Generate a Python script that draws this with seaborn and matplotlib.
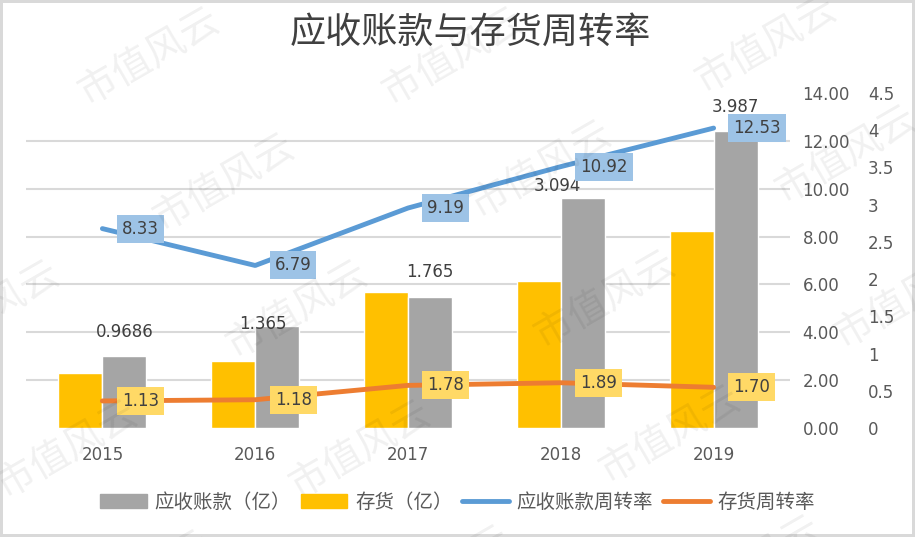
import numpy as np
import pandas as pd
import matplotlib
matplotlib.use('Agg')
import matplotlib.pyplot as plt
import seaborn as sns
from matplotlib.patches import Patch
from matplotlib.lines import Line2D

# data
years = ['2015', '2016', '2017', '2018', '2019']
receivables = [0.9686, 1.365, 1.765, 3.094, 3.987]   # 应收账款（亿）
inventory = [0.74, 0.90, 1.83, 1.98, 2.65]           # 存货（亿）
ar_turnover = [8.33, 6.79, 9.19, 10.92, 12.53]       # 应收账款周转率
inv_turnover = [1.13, 1.18, 1.78, 1.89, 1.70]        # 存货周转率

bar_names = ['存货（亿）', '应收账款（亿）']
line_names = ['应收账款周转率', '存货周转率']
title = '应收账款与存货周转率'
watermark = '市值风云'

GRAY = '#A5A5A5'
YELLOW = '#FFC000'
BLUE = '#5B9BD5'
ORANGE = '#ED7D31'
TXT = '#595959'
LBL = '#404040'

sns.set_style('white')
plt.rcParams['font.family'] = ['DejaVu Sans', 'Noto Sans CJK SC']

fig, ax = plt.subplots(figsize=(9.15, 5.37), dpi=100)
fig.subplots_adjust(left=0.0284, right=0.8634, bottom=0.203, top=0.827)
fig.patch.set_edgecolor('#D9D9D9')
fig.patch.set_linewidth(3)

# bars (right-most axis, 0 - 4.5)
df = pd.DataFrame({
    'year': years * 2,
    'value': inventory + receivables,
    'item': [bar_names[0]] * len(years) + [bar_names[1]] * len(years),
})
sns.barplot(data=df, x='year', y='value', hue='item', hue_order=bar_names,
            palette=[YELLOW, GRAY], width=0.575, saturation=1, legend=False, ax=ax)

# value labels over the gray bars, a couple of them nudged like in the original
nudges = [(0, 0), (-10, -16), (0, 0), (-18, -9), (0, 0)]
for bar, v, (dx, dy) in zip(ax.containers[1], receivables, nudges):
    ax.annotate('{:g}'.format(v), xy=(bar.get_x() + bar.get_width() / 2, bar.get_height()),
                xytext=(dx, 11 + dy), textcoords='offset points',
                ha='center', va='bottom', fontsize=12, color=LBL)

ax2 = ax.twinx()

ax.set_ylim(0, 4.5)
ax.set_yticks(np.arange(0, 4.51, 0.5))
ax.set_yticklabels(['{:g}'.format(t) for t in np.arange(0, 4.51, 0.5)])
ax.yaxis.tick_right()
ax.tick_params(axis='y', length=0, pad=56, labelsize=12, labelcolor=TXT)
ax.tick_params(axis='x', length=0, pad=13, labelsize=12, labelcolor=TXT)
# gridlines follow the 0-14 axis, drawn under the bars
ax.set_yticks(np.arange(8) * 4.5 / 7, minor=True)
ax.tick_params(axis='y', which='minor', length=0)
ax.yaxis.grid(False, which='major')
ax.yaxis.grid(True, which='minor', color='#D9D9D9', linewidth=1.5)
ax.set_axisbelow(True)
ax.set_xlabel('')
ax.set_ylabel('')

# turnover lines (0 - 14)
sns.pointplot(x=years, y=ar_turnover, color=BLUE, marker='', linewidth=3.5,
              errorbar=None, ax=ax2)
sns.pointplot(x=years, y=inv_turnover, color=ORANGE, marker='', linewidth=3.5,
              errorbar=None, ax=ax2)
for ln in ax2.lines:
    ln.set_solid_capstyle('round')

for i, v in enumerate(ar_turnover):
    ax2.annotate('{:.2f}'.format(v), xy=(i, v), xytext=(14, 0), textcoords='offset points',
                 ha='left', va='center', fontsize=12, color=LBL,
                 bbox=dict(boxstyle='square,pad=0.3', fc='#9DC3E6', ec='none'))
for i, v in enumerate(inv_turnover):
    ax2.annotate('{:.2f}'.format(v), xy=(i, v), xytext=(14, 0), textcoords='offset points',
                 ha='left', va='center', fontsize=12, color=LBL,
                 bbox=dict(boxstyle='square,pad=0.3', fc='#FFD966', ec='none'))

ax2.set_ylim(0, 14)
ax2.set_yticks(range(0, 15, 2))
ax2.set_yticklabels(['{:.2f}'.format(t) for t in range(0, 15, 2)])
ax2.tick_params(axis='y', length=0, pad=9, labelsize=12, labelcolor=TXT)
ax2.set_xlim(-0.5, len(years) - 0.5)
ax2.set_xlabel('')
ax2.set_ylabel('')
ax2.grid(False)

for a in (ax, ax2):
    for s in a.spines.values():
        s.set_visible(False)

fig.text(470 / 915, 1 - 33 / 537, title, ha='center', va='center', fontsize=26, color='#404040')

handles = [Patch(color=GRAY), Patch(color=YELLOW),
           Line2D([], [], color=BLUE, linewidth=3.5),
           Line2D([], [], color=ORANGE, linewidth=3.5)]
labels = [bar_names[1], bar_names[0]] + line_names
fig.legend(handles, labels, loc='center', bbox_to_anchor=(0.5, 0.065), ncol=4,
           frameon=False, fontsize=14, handlelength=2.4, handletextpad=0.4,
           columnspacing=0.5, labelcolor=TXT)

# faint diagonal watermark
spots = [(149, 57), (453, 57), (766, 45),
         (224, 183), (541, 170), (846, 155),
         (-11, 310), (297, 310), (605, 300), (905, 300),
         (67, 450), (360, 450), (670, 435),
         (140, 580), (440, 575), (750, 565)]
for x, y in spots:
    fig.text(x / 915, 1 - y / 537, watermark, ha='center', va='center', rotation=30,
             fontsize=28, color='black', alpha=0.06, family='Noto Sans CJK SC')

fig.savefig('out.png', dpi=100)
